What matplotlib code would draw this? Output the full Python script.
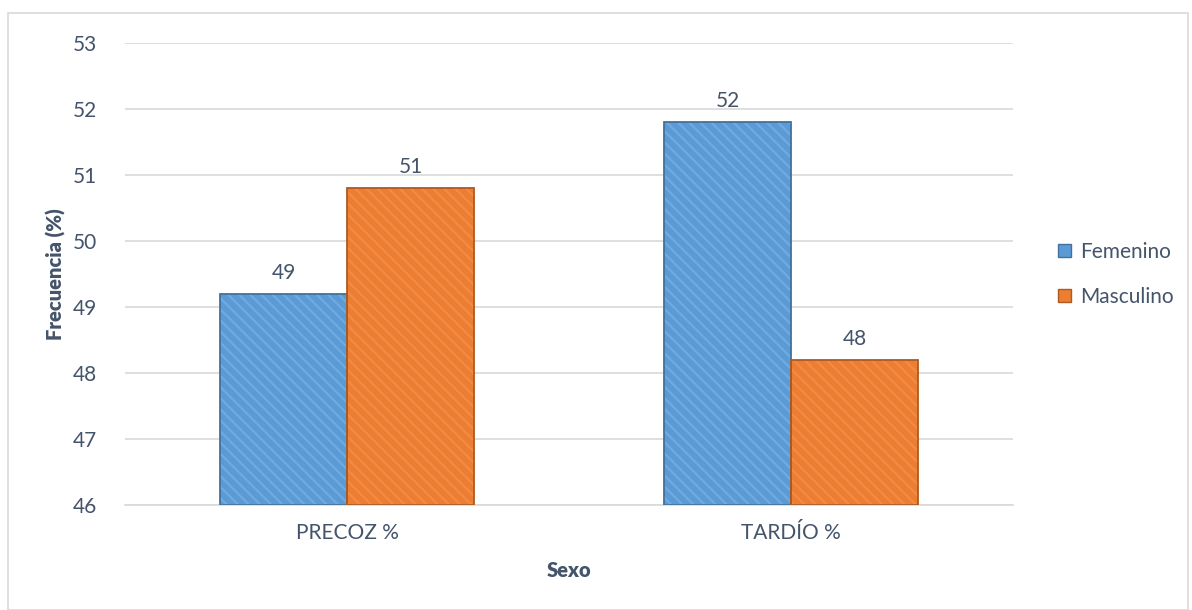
import matplotlib.pyplot as plt
import matplotlib.patches as mpatches
import numpy as np

categorias = ['PRECOZ %', 'TARDÍO %']
series = ['Femenino', 'Masculino']
femenino = [49.2, 51.8]
masculino = [50.8, 48.2]
yticks = [46, 47, 48, 49, 50, 51, 52, 53]

plt.rcParams['font.family'] = ['Lato', 'DejaVu Sans']
plt.rcParams['hatch.linewidth'] = 1.6
gris = '#44546A'

colores = ['#5B9BD5', '#ED7D31']
bordes = ['#41719C', '#AE5A21']
rayas = ['#70AAE0', '#F28B46']

fig = plt.figure(figsize=(11.92, 6.10), dpi=100)
ax = fig.add_axes([0.1049, 0.172, 0.7449, 0.7575])

# marco exterior del grafico
fig.patches.append(mpatches.Rectangle((0.007, 0.0), 0.99, 0.978, transform=fig.transFigure,
                                      fill=False, edgecolor='#D9D9D9', linewidth=1.2))

x = np.arange(len(categorias))
w = 0.286
for i, (nombre, vals) in enumerate(zip(series, [femenino, masculino])):
    pos = x + (i - 0.5) * w
    alturas = [v - 46 for v in vals]
    ax.bar(pos, alturas, w, bottom=46, color=colores[i], linewidth=0, zorder=2)
    # textura diagonal
    ax.bar(pos, alturas, w, bottom=46, facecolor='none',
           edgecolor=rayas[i], hatch='\\\\\\', linewidth=0, zorder=3)
    # contorno
    ax.bar(pos, alturas, w, bottom=46, facecolor='none',
           edgecolor=bordes[i], linewidth=1.3, zorder=4)
    for p, v in zip(pos, vals):
        ax.text(p, v + 0.17, f'{v:.0f}', ha='center', va='bottom', fontsize=15, color=gris)

ax.set_xlim(-0.5, 1.5)
ax.set_ylim(46, 53)
ax.set_yticks(yticks)
ax.set_xticks(x)
ax.set_xticklabels(categorias)
ax.tick_params(axis='both', length=0, labelsize=15, colors=gris)
ax.tick_params(axis='y', pad=20)
ax.tick_params(axis='x', pad=13)
ax.grid(axis='y', color='#D9D9D9', linewidth=1.2, zorder=0)
ax.set_axisbelow(True)
for s in ['top', 'right', 'left']:
    ax.spines[s].set_visible(False)
ax.spines['bottom'].set_color('#D9D9D9')
ax.spines['bottom'].set_linewidth(1.2)

ax.set_ylabel('Frecuencia (%)', fontsize=14.5, fontweight='heavy', color=gris, labelpad=5)
ax.set_xlabel('Sexo', fontsize=14.5, fontweight='heavy', color=gris, labelpad=13)

h = [mpatches.Patch(facecolor=colores[i], edgecolor=bordes[i]) for i in range(2)]
leg = ax.legend(h, series, loc='center left', bbox_to_anchor=(1.03, 0.5), frameon=False,
                fontsize=15, handlelength=0.6, handleheight=0.6, handletextpad=0.45,
                labelspacing=1.2, labelcolor=gris)

fig.savefig('out.png', dpi=100)
